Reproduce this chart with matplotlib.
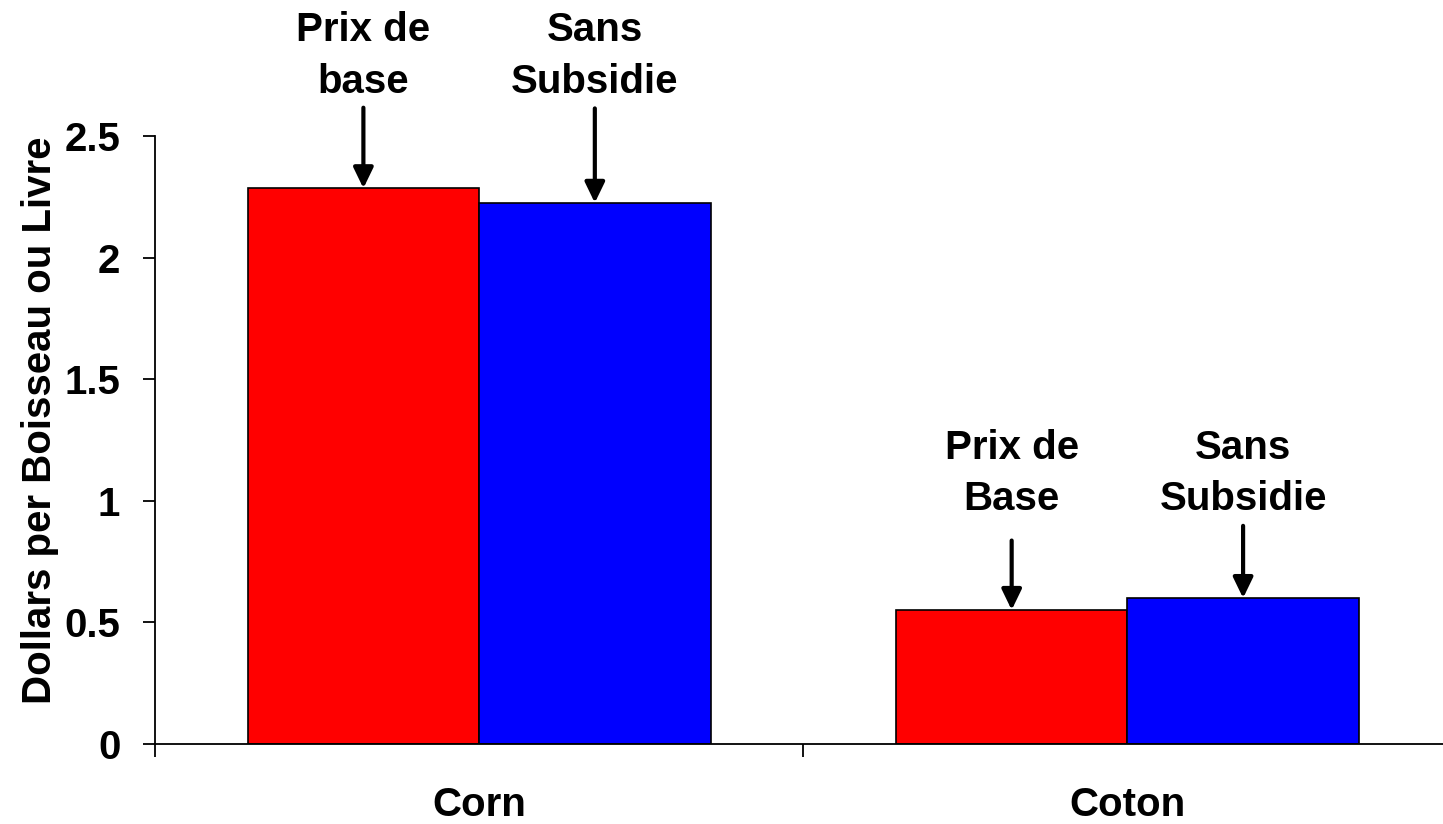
import matplotlib.pyplot as plt
import numpy as np

plt.rcParams['font.family'] = ['Liberation Sans', 'DejaVu Sans']
plt.rcParams['font.weight'] = 'bold'

crops = ["Corn", "Coton"]
prix_base = [2.285, 0.551]
sans_subsidie = [2.225, 0.600]
base_labels = ["Prix de\nbase", "Prix de\nBase"]
sans_labels = ["Sans\nSubsidie", "Sans\nSubsidie"]
label_heights = [2.828, 1.113]
y_ticks = [0, 0.5, 1, 1.5, 2, 2.5]
y_tick_labels = ["0", "0.5", "1", "1.5", "2", "2.5"]

FS = 29


def main():
    fig = plt.figure(figsize=(14.43, 8.24), dpi=100)
    ax = fig.add_axes([0.1074, 0.0971, 0.8985, 0.7379])

    x = np.arange(len(crops))
    w = 0.357
    red = ax.bar(x - w / 2, prix_base, w, color="#ff0000", edgecolor="black", linewidth=1.2)
    blue = ax.bar(x + w / 2, sans_subsidie, w, color="#0000ff", edgecolor="black", linewidth=1.2)

    # arrow lengths in points (red, blue) per group
    gaps = [(58, 68), (50, 52)]
    for i in range(len(crops)):
        pairs = ((red, base_labels, prix_base), (blue, sans_labels, sans_subsidie))
        for k, (bars, labels, vals) in enumerate(pairs):
            bx = bars[i].get_x() + bars[i].get_width() / 2
            ax.annotate("", xy=(bx, vals[i]), xytext=(0, gaps[i][k]), textcoords="offset points",
                        arrowprops=dict(arrowstyle="-|>,head_width=0.3,head_length=0.62",
                                        mutation_scale=20, color="black", lw=3,
                                        shrinkA=0, shrinkB=0))
            ax.text(bx, label_heights[i], labels[i], ha="center", va="center",
                    fontsize=FS, fontweight="bold", linespacing=1.45)

    ax.set_xlim(-0.5, 1.5)
    ax.set_ylim(0, 2.5)
    ax.set_yticks(y_ticks)
    ax.set_yticklabels(y_tick_labels, fontsize=FS, fontweight="bold")
    ax.set_xticks(x)
    ax.set_xticklabels(crops, fontsize=FS, fontweight="bold")
    ax.set_xticks([-0.5, 0.5, 1.5], minor=True)
    ax.tick_params(axis="x", which="major", length=0, pad=30)
    ax.tick_params(axis="x", which="minor", length=9, width=1.3, direction="out")
    ax.tick_params(axis="y", length=9, width=1.3, direction="out", pad=16)
    ax.set_ylabel("Dollars per Boisseau ou Livre", fontsize=FS, fontweight="bold")
    ax.yaxis.set_label_coords(-0.074, 0.533)

    for s in ("top", "right"):
        ax.spines[s].set_visible(False)
    ax.spines["left"].set_linewidth(1.3)
    ax.spines["bottom"].set_linewidth(1.3)

    fig.savefig("out.png", dpi=100)


if __name__ == "__main__":
    main()
